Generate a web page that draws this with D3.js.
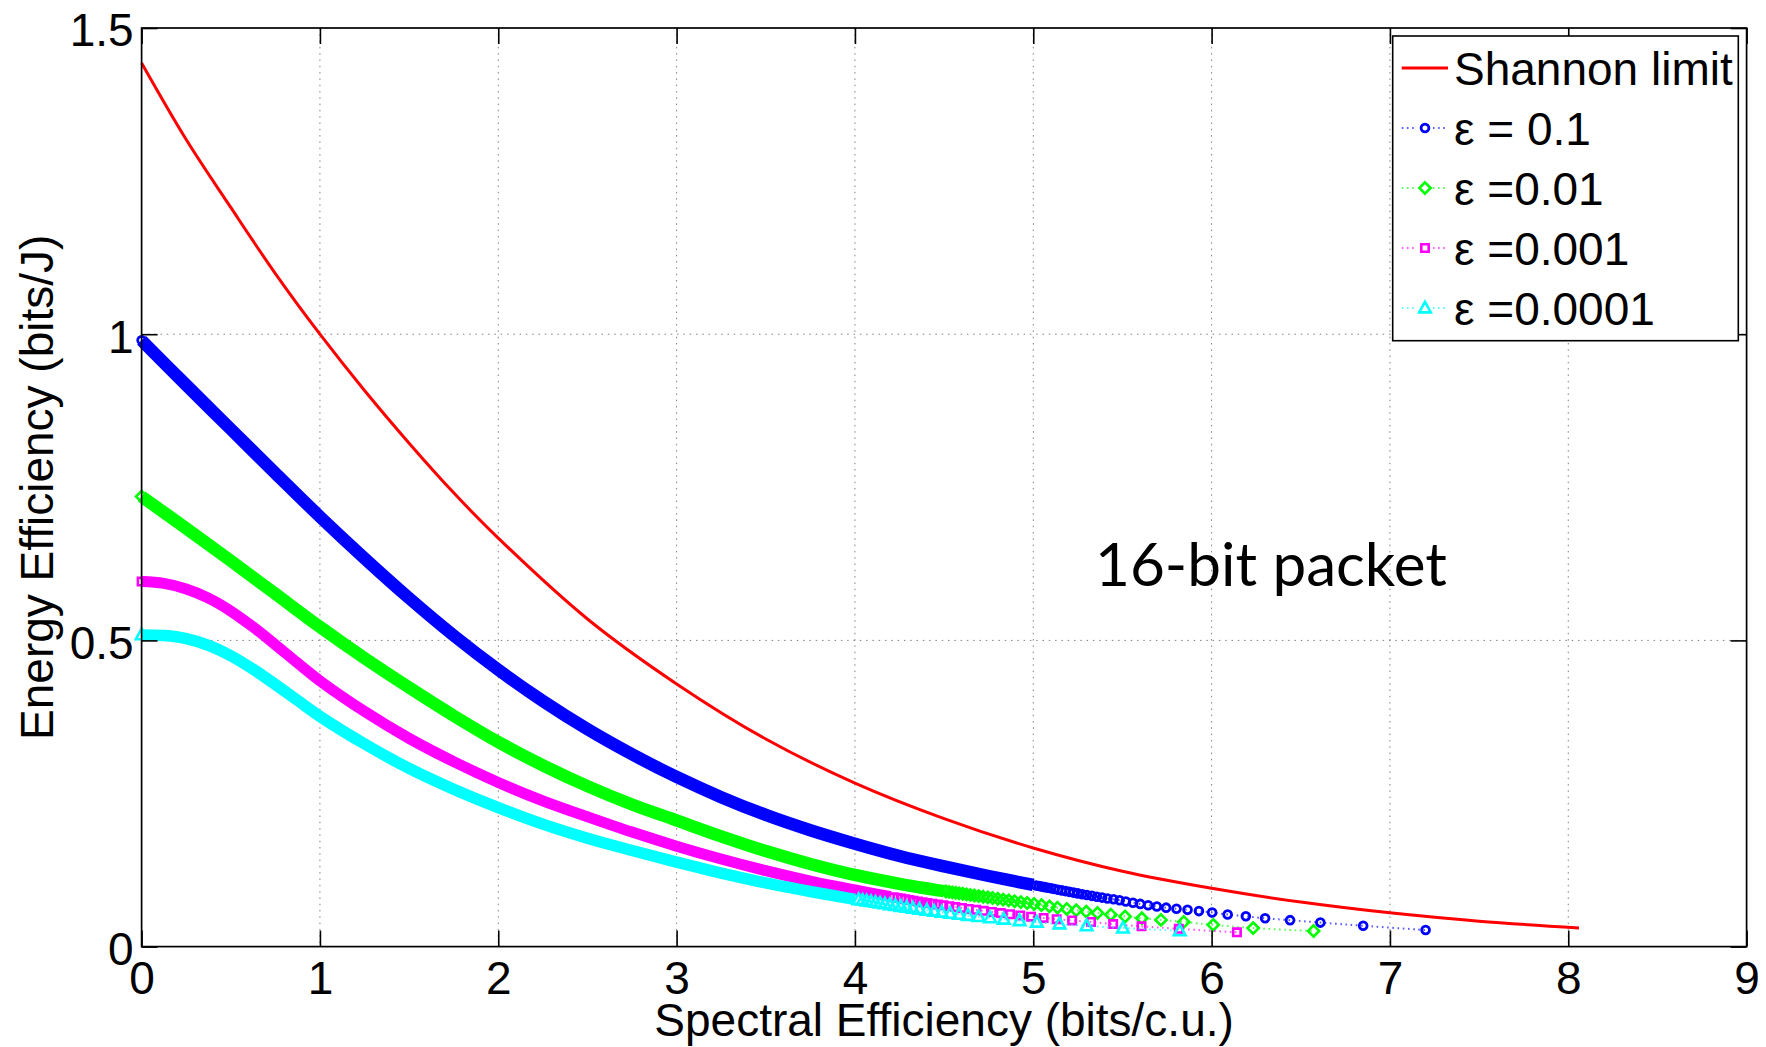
<!DOCTYPE html>
<html>
<head>
<meta charset="utf-8">
<script src="https://cdn.jsdelivr.net/npm/d3@7"></script>
<style>
  html, body { margin: 0; padding: 0; background: #fff; }
  svg { display: block; }
</style>
</head>
<body>
<svg id="chart" width="1766" height="1047"></svg>
<script>
// ---- data -------------------------------------------------------------
const xTicks = [0, 1, 2, 3, 4, 5, 6, 7, 8, 9];
const yTicks = [0, 0.5, 1, 1.5];
const yTickLabels = ["0", "0.5", "1", "1.5"];
const legendLabels = ["Shannon limit", "ε = 0.1", "ε =0.01", "ε =0.001", "ε =0.0001"];
const xLabel = "Spectral Efficiency (bits/c.u.)";
const yLabel = "Energy Efficiency (bits/J)";
const note = "16-bit packet";

// Shannon limit [spectral efficiency, energy efficiency]
const shannon = [
  [0, 1.443], [0.25, 1.318], [0.5, 1.207], [0.75, 1.099], [1, 1.000],
  [1.25, 0.908], [1.5, 0.822], [1.75, 0.741], [2, 0.667], [2.5, 0.535],
  [3, 0.429], [3.5, 0.339], [4, 0.267], [4.5, 0.209], [5, 0.161],
  [5.5, 0.123], [6, 0.0952], [6.5, 0.0727], [7, 0.0551], [7.5, 0.0415],
  [8.06, 0.0303]
];

// ε = 0.1 : densely sampled part, then the sparse tail
const eps1Dense = [
  [0, 0.990], [0.25, 0.917], [0.5, 0.845], [0.75, 0.773], [1, 0.702],
  [1.25, 0.634], [1.5, 0.569], [1.75, 0.508], [2, 0.452], [2.25, 0.401],
  [2.5, 0.355], [2.75, 0.314], [3, 0.277], [3.25, 0.244], [3.5, 0.215],
  [3.75, 0.190], [4, 0.168], [4.25, 0.148], [4.5, 0.131], [4.75, 0.1153],
  [5, 0.1006]
];
const eps1Tail = [
  [5.016, 0.0998], [5.032, 0.0989], [5.048, 0.0980], [5.065, 0.0971], [5.083, 0.0961],
  [5.101, 0.0951], [5.120, 0.0940], [5.140, 0.0929], [5.160, 0.0918], [5.181, 0.0906],
  [5.203, 0.0894], [5.226, 0.0882], [5.250, 0.0869], [5.275, 0.0856], [5.301, 0.0843],
  [5.329, 0.0829], [5.357, 0.0815], [5.386, 0.0800], [5.416, 0.0786], [5.450, 0.0772],
  [5.484, 0.0756], [5.519, 0.0737], [5.559, 0.0717], [5.600, 0.0697], [5.644, 0.0676],
  [5.693, 0.0656], [5.745, 0.0636], [5.803, 0.0618], [5.865, 0.0600], [5.929, 0.0580],
  [6.003, 0.0556], [6.090, 0.0524], [6.192, 0.0495], [6.300, 0.0463], [6.440, 0.0432],
  [6.610, 0.0392], [6.850, 0.0340], [7.200, 0.0270]
];

// ε = 0.01
const eps2Dense = [
  [0, 0.735], [0.25, 0.683], [0.5, 0.630], [0.75, 0.576], [1, 0.522],
  [1.25, 0.471], [1.5, 0.423], [1.75, 0.377], [2, 0.334], [2.25, 0.296],
  [2.5, 0.262], [2.75, 0.232], [3, 0.206], [3.25, 0.180], [3.5, 0.156],
  [3.75, 0.135], [4, 0.117], [4.25, 0.1025], [4.5, 0.0905]
];
const eps2Tail = [
  [4.511, 0.0900], [4.528, 0.0893], [4.546, 0.0886], [4.565, 0.0878], [4.584, 0.0870],
  [4.604, 0.0862], [4.625, 0.0853], [4.647, 0.0844], [4.670, 0.0835], [4.694, 0.0825],
  [4.719, 0.0815], [4.745, 0.0804], [4.772, 0.0793], [4.801, 0.0781], [4.831, 0.0768],
  [4.862, 0.0755], [4.895, 0.0741], [4.930, 0.0726], [4.966, 0.0711], [5.005, 0.0696],
  [5.046, 0.0677], [5.091, 0.0656], [5.136, 0.0636], [5.188, 0.0615], [5.241, 0.0594],
  [5.297, 0.0572], [5.360, 0.0548], [5.435, 0.0521], [5.515, 0.0492], [5.609, 0.0463],
  [5.716, 0.0436], [5.844, 0.0403], [6.009, 0.0355], [6.233, 0.0302], [6.572, 0.0255]
];

// ε = 0.001
const eps3Dense = [
  [0, 0.596], [0.125, 0.593], [0.25, 0.584], [0.375, 0.569], [0.5, 0.548],
  [0.625, 0.522], [0.75, 0.493], [0.875, 0.463], [1, 0.434], [1.25, 0.384],
  [1.5, 0.340], [1.75, 0.302], [2, 0.268], [2.25, 0.238], [2.5, 0.212],
  [2.75, 0.187], [3, 0.164], [3.25, 0.143], [3.5, 0.124], [3.75, 0.107],
  [4, 0.0925], [4.2, 0.0815]
];
const eps3Tail = [
  [4.218, 0.0805], [4.238, 0.0795], [4.259, 0.0784], [4.281, 0.0773], [4.304, 0.0761],
  [4.328, 0.0749], [4.353, 0.0737], [4.379, 0.0725], [4.406, 0.0713], [4.435, 0.0700],
  [4.465, 0.0687], [4.496, 0.0674], [4.529, 0.0660], [4.563, 0.0646], [4.600, 0.0631],
  [4.638, 0.0616], [4.679, 0.0600], [4.722, 0.0584], [4.768, 0.0566], [4.818, 0.0547],
  [4.870, 0.0528], [4.927, 0.0509], [4.988, 0.0489], [5.058, 0.0468], [5.131, 0.0448],
  [5.218, 0.0427], [5.324, 0.0402], [5.448, 0.0368], [5.607, 0.0331], [5.816, 0.0290],
  [6.142, 0.0233]
];

// ε = 0.0001
const eps4Dense = [
  [0, 0.509], [0.125, 0.508], [0.25, 0.503], [0.375, 0.492], [0.5, 0.475],
  [0.625, 0.453], [0.75, 0.428], [0.875, 0.402], [1, 0.376], [1.25, 0.331],
  [1.5, 0.291], [1.75, 0.257], [2, 0.227], [2.25, 0.200], [2.5, 0.177],
  [2.75, 0.157], [3, 0.138], [3.25, 0.120], [3.5, 0.104], [3.75, 0.090],
  [4, 0.077]
];
const eps4Tail = [
  [4.021, 0.0766], [4.043, 0.0756], [4.066, 0.0745], [4.090, 0.0734], [4.115, 0.0722],
  [4.141, 0.0710], [4.168, 0.0697], [4.196, 0.0684], [4.226, 0.0670], [4.257, 0.0656],
  [4.290, 0.0641], [4.325, 0.0626], [4.362, 0.0610], [4.403, 0.0593], [4.444, 0.0577],
  [4.487, 0.0561], [4.534, 0.0544], [4.584, 0.0527], [4.634, 0.0509], [4.693, 0.0490],
  [4.758, 0.0470], [4.835, 0.0447], [4.923, 0.0423], [5.020, 0.0398], [5.147, 0.0370],
  [5.299, 0.0340], [5.503, 0.0303], [5.821, 0.0258]
];

// ---- layout -----------------------------------------------------------
const W = 1766, H = 1047;
const plot = { left: 141.6, right: 1746.6, top: 28, bottom: 946.6 };
const FONT = "'Liberation Sans', Arial, Helvetica, sans-serif";

const svg = d3.select("#chart");
svg.append("rect").attr("width", W).attr("height", H).attr("fill", "#fff");

const x = d3.scaleLinear().domain([0, 9]).range([plot.left, plot.right]);
const y = d3.scaleLinear().domain([0, 1.5]).range([plot.bottom, plot.top]);

// marker shapes, drawn around the origin
const markerPath = {
  circle: () => { const p = d3.path(); p.arc(0, 0, 3.9, 0, 2 * Math.PI); p.closePath(); return p.toString(); },
  diamond: () => { const h = 5.6; return `M0,${-h}L${h},0L0,${h}L${-h},0Z`; },
  square: () => { const s = 3.7; return `M${-s},${-s}H${s}V${s}H${-s}Z`; },
  triangle: () => { const a = 5.8; return `M0,${-6.2}L${a},4.4L${-a},4.4Z`; }
};

const series = [
  { dense: eps1Dense, tail: eps1Tail, color: "#0000ff", marker: "circle",   band: 12.5, mw: 2.8 },
  { dense: eps2Dense, tail: eps2Tail, color: "#00ff00", marker: "diamond",  band: 12.5, mw: 2.6 },
  { dense: eps3Dense, tail: eps3Tail, color: "#ff00ff", marker: "square",   band: 11,   mw: 2.6 },
  { dense: eps4Dense, tail: eps4Tail, color: "#00ffff", marker: "triangle", band: 11.5, mw: 2.6 }
];

// ---- grid -------------------------------------------------------------
const grid = svg.append("g").attr("stroke", "#808080").attr("stroke-width", 1)
  .attr("stroke-dasharray", "1.5,4.8");
grid.selectAll("line.gx").data(xTicks.filter(d => d > 0 && d < 9)).join("line")
  .attr("x1", d => x(d)).attr("x2", d => x(d)).attr("y1", plot.top).attr("y2", plot.bottom);
grid.selectAll("line.gy").data(yTicks.filter(d => d > 0 && d < 1.5)).join("line")
  .attr("x1", plot.left).attr("x2", plot.right).attr("y1", d => y(d)).attr("y2", d => y(d));

// ---- curves -----------------------------------------------------------
const smooth = d3.line().x(d => x(d[0])).y(d => y(d[1])).curve(d3.curveCatmullRom.alpha(0.5));

svg.append("path").datum(shannon).attr("d", smooth)
  .attr("fill", "none").attr("stroke", "#ff0000").attr("stroke-width", 3);

series.forEach(s => {
  const g = svg.append("g");
  const all = s.dense.concat(s.tail);
  // dotted connector through every sample
  g.append("path").datum(all).attr("d", smooth)
    .attr("fill", "none").attr("stroke", s.color).attr("stroke-width", 2)
    .attr("stroke-opacity", 0.65).attr("stroke-dasharray", "1.6,3.6");
  // overlapping markers merge into a solid band where sampling is dense
  g.append("path").datum(s.dense).attr("d", smooth)
    .attr("fill", "none").attr("stroke", s.color).attr("stroke-width", s.band)
    .attr("stroke-linecap", "butt").attr("stroke-linejoin", "round");
  // individual markers: the first sample and the sparse tail
  const marks = [s.dense[0]].concat(s.tail);
  g.selectAll("path.m").data(marks).join("path").attr("class", "m")
    .attr("d", markerPath[s.marker]())
    .attr("transform", d => `translate(${x(d[0])},${y(d[1])})`)
    .attr("fill", "none").attr("stroke", s.color).attr("stroke-width", s.mw);
});

// ---- axes -------------------------------------------------------------
function styleAxis(g) {
  g.attr("font-family", FONT).attr("font-size", 46);
  g.select(".domain").remove();
  g.selectAll(".tick line").attr("stroke", "#000").attr("stroke-width", 1.6);
  g.selectAll(".tick text").attr("fill", "#000");
}
svg.append("g").attr("transform", `translate(0,${plot.bottom})`)
  .call(d3.axisBottom(x).tickValues(xTicks).tickFormat(d3.format("d"))
    .tickSizeInner(-16).tickSizeOuter(0).tickPadding(15))
  .call(styleAxis);
const gy = svg.append("g").attr("transform", `translate(${plot.left},0)`)
  .call(d3.axisLeft(y).tickValues(yTicks).tickFormat((d, i) => yTickLabels[i])
    .tickSizeInner(-16).tickSizeOuter(0).tickPadding(8))
  .call(styleAxis);
gy.selectAll(".tick text").attr("dy", "0.39em");
svg.append("g").attr("transform", `translate(0,${plot.top})`)
  .call(d3.axisTop(x).tickValues(xTicks).tickFormat("").tickSizeInner(-16).tickSizeOuter(0))
  .call(styleAxis);
svg.append("g").attr("transform", `translate(${plot.right},0)`)
  .call(d3.axisRight(y).tickValues(yTicks).tickFormat("").tickSizeInner(-16).tickSizeOuter(0))
  .call(styleAxis);

svg.append("rect")
  .attr("x", plot.left).attr("y", plot.top)
  .attr("width", plot.right - plot.left).attr("height", plot.bottom - plot.top)
  .attr("fill", "none").attr("stroke", "#000").attr("stroke-width", 1.7);

// axis titles
svg.append("text").text(xLabel)
  .attr("x", (plot.left + plot.right) / 2).attr("y", 1036)
  .attr("text-anchor", "middle").attr("font-family", FONT).attr("font-size", 46).attr("fill", "#000");
svg.append("text").text(yLabel)
  .attr("transform", `translate(53,${(plot.top + plot.bottom) / 2}) rotate(-90)`)
  .attr("text-anchor", "middle").attr("font-family", FONT).attr("font-size", 46).attr("fill", "#000");

// annotation
const noteText = svg.append("text").text(note)
  .attr("x", 1095).attr("y", 586)
  .attr("font-family", "Lato, 'Open Sans', sans-serif").attr("font-size", 66).attr("fill", "#000");
const nw = noteText.node().getComputedTextLength();
if (nw > 0) noteText.attr("font-size", 66 * 352 / nw);

// ---- legend -----------------------------------------------------------
const lg = svg.append("g");
lg.append("rect").attr("x", 1392.7).attr("y", 36).attr("width", 345.6).attr("height", 304.7)
  .attr("fill", "#fff").attr("stroke", "#000").attr("stroke-width", 1.6);
const rowY = i => 68 + i * 60;
const lx0 = 1401.7, lx1 = 1448, lmx = 1425;

lg.append("line").attr("x1", lx0).attr("x2", lx1).attr("y1", rowY(0)).attr("y2", rowY(0))
  .attr("stroke", "#ff0000").attr("stroke-width", 3);
series.forEach((s, i) => {
  const yy = rowY(i + 1);
  lg.append("line").attr("x1", lx0).attr("x2", lx1).attr("y1", yy).attr("y2", yy)
    .attr("stroke", s.color).attr("stroke-width", 2).attr("stroke-opacity", 0.65)
    .attr("stroke-dasharray", "1.6,3.6");
  lg.append("rect").attr("x", lmx - 8).attr("y", yy - 8).attr("width", 16).attr("height", 16)
    .attr("fill", "#fff");
  lg.append("path").attr("d", markerPath[s.marker]())
    .attr("transform", `translate(${lmx},${yy})`)
    .attr("fill", "none").attr("stroke", s.color).attr("stroke-width", s.mw);
});
lg.selectAll("text").data(legendLabels).join("text")
  .attr("x", 1454).attr("y", (d, i) => rowY(i) + 16.5)
  .attr("font-family", FONT).attr("font-size", 46).attr("fill", "#000")
  .text(d => d);
</script>
</body>
</html>
